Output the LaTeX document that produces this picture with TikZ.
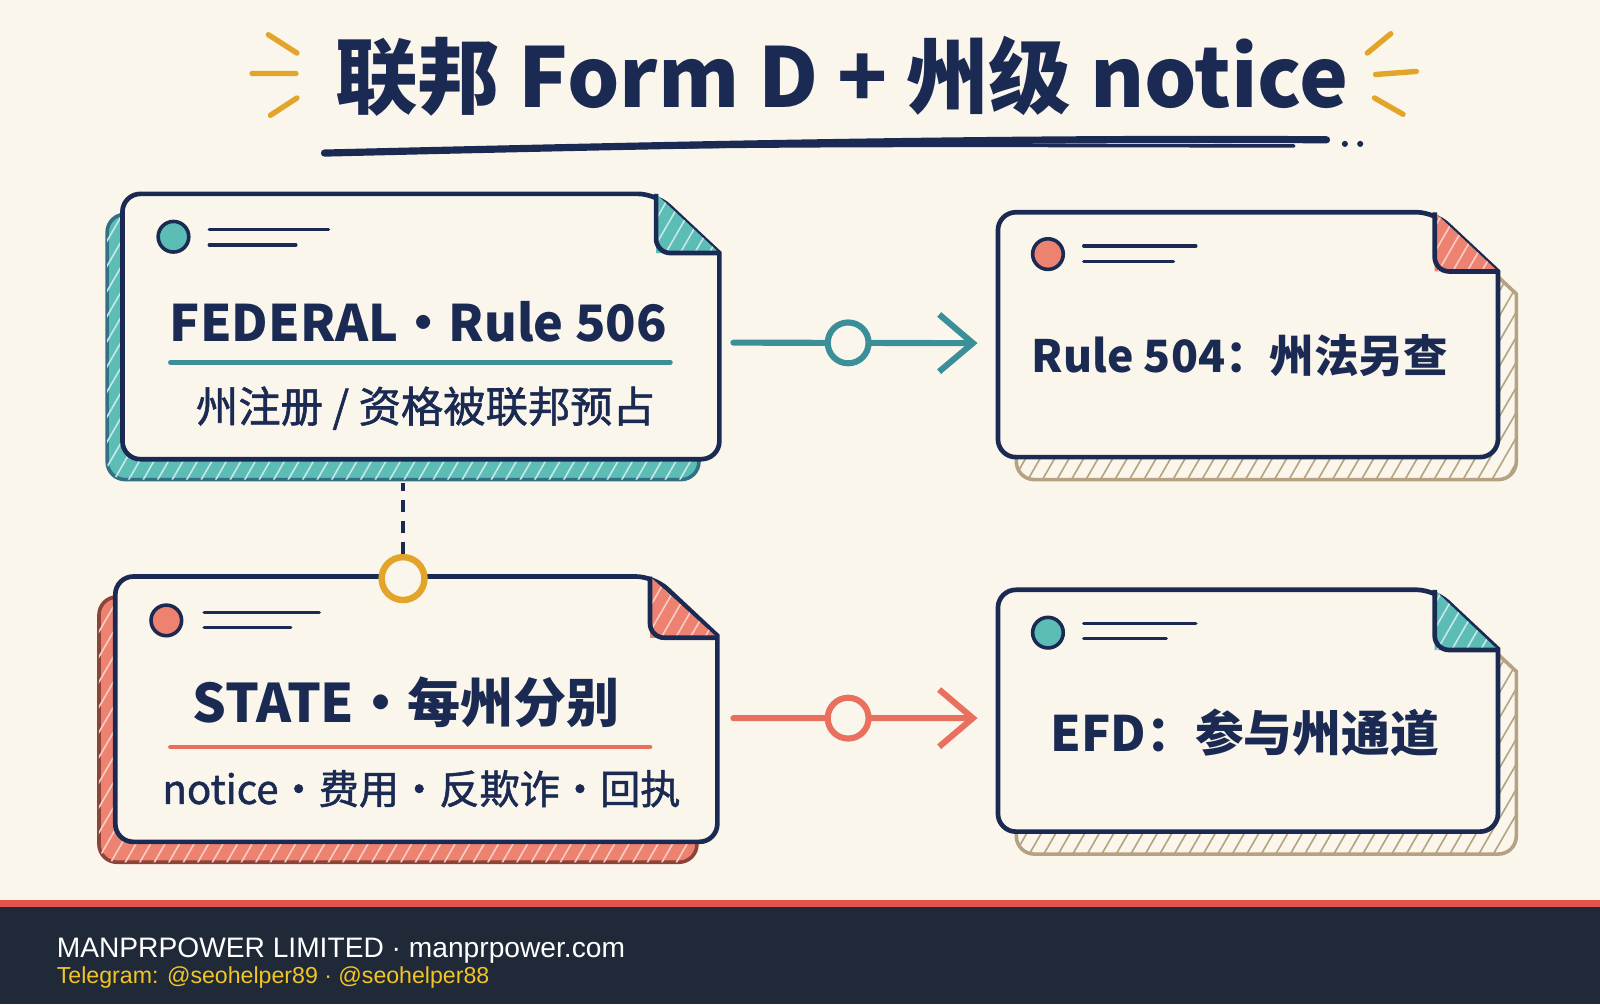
\documentclass[tikz,border=0pt]{standalone}
\usepackage{fontspec}
\setmainfont{Noto Sans CJK SC}
\newfontfamily\semifont[FakeBold=1.3]{Noto Sans CJK SC}
\newfontfamily\footfont{Liberation Sans}
\usetikzlibrary{arrows.meta,patterns.meta}

\definecolor{paper}{HTML}{FAF6EC}
\definecolor{ink}{HTML}{1B2A52}
\definecolor{tealfill}{HTML}{5CBDB7}
\definecolor{tealdark}{HTML}{3B8F98}
\definecolor{coral}{HTML}{EE8271}
\definecolor{coraldark}{HTML}{E96F5E}
\definecolor{gold}{HTML}{E2A52A}
\definecolor{tan}{HTML}{B5A283}
\definecolor{footbg}{HTML}{1F2937}
\definecolor{footred}{HTML}{E5544C}
\definecolor{footgold}{HTML}{F2C524}

% outline of a note card with a folded top-right corner (width, height)
\newcommand{\cardshape}[2]{(0,#2/2) [rounded corners=5pt] |- (#1-62,0)
  [sharp corners] -- (#1,58) -- (#1,#2/2) [rounded corners=5pt] |- (0,#2) -- cycle}

\tikzset{
  cardarea/.style={inner sep=0pt, anchor=north west},
  cardline/.style={draw=ink, line width=1.3pt, fill=paper},
  inkline/.style={draw=ink, line width=1.3pt, rounded corners=4pt},
  inkthin/.style={draw=ink, line width=0.9pt, line cap=round},
  hatch/.style={postaction={pattern={Lines[angle=60,distance=3.5pt,line width=0.45pt]}, pattern color=#1}},
  sheetteal/.style={fill=tealfill, draw=tealdark!70!ink, line width=1pt, hatch=white!65!tealfill},
  sheetcoral/.style={fill=coral, draw=coraldark!60!black, line width=1pt, hatch=white!60!coral},
  sheettan/.style={fill=paper, draw=tan, line width=1pt, hatch=tan},
  foldteal/.style={fill=tealfill, hatch=white!65!tealfill},
  foldcoral/.style={fill=coral, hatch=white!60!coral},
  dotteal/.style={fill=tealfill, draw=ink, line width=1pt},
  dotcoral/.style={fill=coral, draw=ink, line width=1pt},
  titletext/.style={text=ink, font=\fontsize{23}{26}\selectfont\bfseries},
  headtext/.style={text=ink, font=\fontsize{14}{17}\selectfont\bfseries, inner sep=0pt},
  subtext/.style={text=ink, font=\semifont\fontsize{11.8}{14}\selectfont, inner sep=0pt},
  ringteal/.style={circle, draw=tealdark, line width=1.7pt, fill=paper, minimum size=0.4cm, inner sep=0pt},
  ringcoral/.style={circle, draw=coraldark, line width=1.7pt, fill=paper, minimum size=0.4cm, inner sep=0pt},
  ringgold/.style={circle, draw=gold, line width=1.8pt, fill=paper, minimum size=0.42cm, inner sep=0pt},
  flowteal/.style={draw=tealdark, line width=1.7pt, line cap=round, line join=round,
    -{Straight Barb[length=3.3mm,width=5.6mm]}},
  flowcoral/.style={draw=coraldark, line width=1.7pt, line cap=round, line join=round,
    -{Straight Barb[length=3.3mm,width=5.6mm]}},
  dashlink/.style={draw=ink, line width=1.2pt, dash pattern=on 3.4pt off 2.4pt},
  burst/.style={draw=gold, line width=1.5pt, line cap=round},
}

\begin{document}
\begin{tikzpicture}[x=0.01cm, y=-0.01cm]

  % ---- paper background ----
  \fill[paper] (0,0) rectangle (1568,984);
  \useasboundingbox (0,0) rectangle (1568,984);

  % ---- title ----
  \node[titletext] (title) at (825,75) {联邦 Form D + 州级 notice};
  \draw[burst] (263,34) -- (291,52) (247,72) -- (290,72) (265,113) -- (291,96);
  \draw[burst] (1340,52) -- (1363,33) (1348,73) -- (1388,70) (1347,96) -- (1375,112);
  \draw[ink, line width=2pt, line cap=round] (318,150) .. controls (700,141) and (1000,135) .. (1300,137);
  \draw[ink, line width=1pt, line cap=round] (420,147) .. controls (800,142) .. (1268,143);
  \fill[ink] (1318,141) circle (3) (1333,141) circle (3);

  % ---- card areas ----
  \node[cardarea, minimum width=5.85cm, minimum height=2.6cm] (fed) at (120,190) {};
  \node[cardarea, minimum width=4.9cm, minimum height=2.4cm] (r504) at (978,208) {};
  \node[cardarea, minimum width=5.9cm, minimum height=2.6cm] (stt) at (113,565) {};
  \node[cardarea, minimum width=4.9cm, minimum height=2.37cm] (efd) at (978,578) {};

  % ---- federal card ----
  \begin{scope}[shift={(fed.north west)}]
    \path[sheetteal, shift={(-15,20)}] \cardshape{580}{260};
    \path[cardline] \cardshape{585}{260};
    \path[foldteal] (523,0) -- (523,58) -- (585,58) -- cycle;
    \draw[inkline] (523,0) -- (523,58) -- (585,58);
    \path[dotteal] (50,42) circle (15);
    \draw[inkthin] (85,35) -- (202,35) (85,50) -- (170,50);
    \node[headtext] (fedhead) at (290,125) {FEDERAL·Rule 506};
    \draw[tealdark, line width=1.3pt, line cap=round] (47,165) -- (537,165);
    \node[subtext] (fedsub) at (297,210) {州注册 / 资格被联邦预占};
  \end{scope}

  % ---- rule 504 card ----
  \begin{scope}[shift={(r504.north west)}]
    \path[sheettan, shift={(18,22)}] \cardshape{490}{240};
    \path[cardline] \cardshape{490}{240};
    \path[foldcoral] (428,0) -- (428,58) -- (490,58) -- cycle;
    \draw[inkline] (428,0) -- (428,58) -- (490,58);
    \path[dotcoral] (49,41) circle (15);
    \draw[inkthin] (84,33) -- (194,33) (84,48) -- (172,48);
    \node[headtext, font=\fontsize{12.4}{15}\selectfont\bfseries] (r504head) at (237,140) {Rule 504：州法另查};
  \end{scope}

  % ---- state card ----
  \begin{scope}[shift={(stt.north west)}]
    \path[sheetcoral, shift={(-16,20)}] \cardshape{586}{260};
    \path[cardline] \cardshape{590}{260};
    \path[foldcoral] (524,0) -- (524,60) -- (590,60) -- cycle;
    \draw[inkline] (524,0) -- (524,60) -- (590,60);
    \path[dotcoral] (50,43) circle (15);
    \draw[inkthin] (87,35) -- (200,35) (87,50) -- (172,50);
    \node[headtext, font=\fontsize{14.8}{18}\selectfont\bfseries] (stthead) at (285,123) {STATE·每州分别};
    \draw[coraldark, line width=1.3pt, line cap=round] (54,167) -- (524,167);
    \node[subtext, font=\semifont\fontsize{11.2}{14}\selectfont] (sttsub) at (300,208) {notice·费用·反欺诈·回执};
  \end{scope}

  % ---- efd card ----
  \begin{scope}[shift={(efd.north west)}]
    \path[sheettan, shift={(18,22)}] \cardshape{490}{237};
    \path[cardline] \cardshape{490}{237};
    \path[foldteal] (428,0) -- (428,59) -- (490,59) -- cycle;
    \draw[inkline] (428,0) -- (428,59) -- (490,59);
    \path[dotteal] (49,42) circle (15);
    \draw[inkthin] (84,33) -- (194,33) (84,48) -- (165,48);
    \node[headtext, font=\fontsize{13.6}{16}\selectfont\bfseries] (efdhead) at (242,140) {EFD：参与州通道};
  \end{scope}

  % ---- connectors ----
  \draw[flowteal] ([shift={(12,15)}]fed.east) -- node[ringteal, pos=0.47] (ringA) {} ([shift={(-20,7.5)}]r504.west);
  \draw[flowcoral] ([shift={(14,8)}]stt.east) -- node[ringcoral, pos=0.47] (ringB) {} ([shift={(-20,6.5)}]efd.west);
  \node[ringgold] (pin) at ([shift={(282,2)}]stt.north west) {};
  \draw[dashlink, shorten >=0.22cm] (pin.north) -- (pin.north |- fed.south);

  % ---- footer ----
  \fill[footbg] (0,889) rectangle (1568,984);
  \fill[footred] (0,882) rectangle (1568,889);
  \node[anchor=base west, inner sep=0pt, text=white, font=\footfont\fontsize{7.85}{9}\selectfont] (brand) at (55,938) {MANPRPOWER LIMITED · manprpower.com};
  \node[anchor=base west, inner sep=0pt, text=footgold, font=\footfont\fontsize{6.45}{8}\selectfont] (tg) at (55,964) {Telegram: @seohelper89 · @seohelper88};

\end{tikzpicture}
\end{document}
